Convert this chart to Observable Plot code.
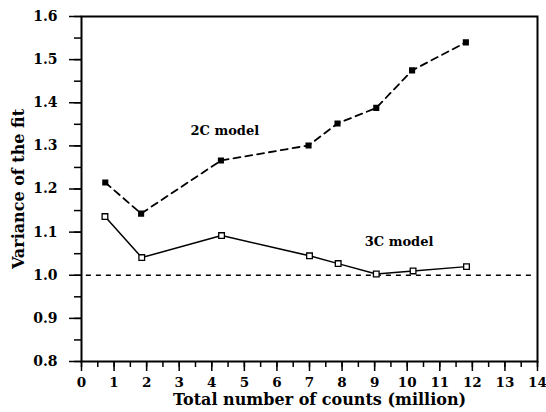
<!DOCTYPE html>
<html><head><meta charset="utf-8">
<script src="https://cdn.jsdelivr.net/npm/d3@7"></script>
<script src="https://cdn.jsdelivr.net/npm/@observablehq/plot@0.6"></script>
<style>
body{margin:0;background:#fff;}
svg{font-family:"DejaVu Serif",serif;}
</style></head>
<body><div id="chart"></div>
<script>
const counts2C = [0.73, 1.83, 4.28, 6.97, 7.86, 9.05, 10.15, 11.8];
const var2C = [1.215, 1.143, 1.266, 1.301, 1.352, 1.388, 1.475, 1.540];
const counts3C = [0.72, 1.85, 4.3, 7.0, 7.88, 9.05, 10.18, 11.82];
const var3C = [1.136, 1.041, 1.092, 1.045, 1.027, 1.003, 1.010, 1.020];
const xTicks = d3.range(0, 15, 1);
const yTicks = [0.8, 0.9, 1.0, 1.1, 1.2, 1.3, 1.4, 1.5, 1.6];
const labels = [{x: 4.4, y: 1.335, text: "2C model"}, {x: 9.75, y: 1.078, text: "3C model"}];

const d2 = counts2C.map((x, i) => ({x, y: var2C[i]}));
const d3c = counts3C.map((x, i) => ({x, y: var3C[i]}));
const blank = () => "";

const chart = Plot.plot({
  width: 546, height: 412,
  marginLeft: 81, marginRight: 9, marginTop: 16, marginBottom: 51,
  x: {domain: [0, 14]},
  y: {domain: [0.8, 1.6]},
  marks: [
    Plot.axisX({ticks: d3.range(0, 14.01, 0.5), tickSize: 6, tickFormat: blank, label: null, strokeWidth: 1.5}),
    Plot.axisX({ticks: xTicks, tickSize: 10, tickPadding: 6, tickFormat: d => d, label: null, fontSize: 13.5, fontWeight: "bold", strokeWidth: 1.5}),
    Plot.axisY({ticks: d3.range(0.8, 1.601, 0.05), tickSize: 7, tickFormat: blank, label: null, strokeWidth: 1.5}),
    Plot.axisY({ticks: yTicks, tickSize: 12, tickPadding: 12, tickFormat: d => d.toFixed(1), label: null, fontSize: 14, fontWeight: "bold", strokeWidth: 1.5}),
    Plot.frame({strokeWidth: 2}),
    Plot.ruleY([1.0], {x1: 0.15, x2: 13.85, strokeDasharray: "5,5", strokeWidth: 1.3}),
    Plot.line(d2, {x: "x", y: "y", strokeDasharray: "7,5", strokeWidth: 1.8}),
    Plot.dot(d2, {x: "x", y: "y", symbol: "square", r: 2.6, fill: "black", stroke: "black"}),
    Plot.line(d3c, {x: "x", y: "y", strokeWidth: 1.5}),
    Plot.dot(d3c, {x: "x", y: "y", symbol: "square", r: 3.2, fill: "white", stroke: "black", strokeWidth: 1.3}),
    Plot.text(labels, {x: "x", y: "y", text: "text", fontSize: 13, fontWeight: "bold"}),
    Plot.text(["Total number of counts (million)"], {frameAnchor: "bottom", dx: 10, dy: 43, text: d => d, fontSize: 16, fontWeight: "bold", letterSpacing: 1.5}),
    Plot.text(["Variance of the fit"], {frameAnchor: "left", textAnchor: "middle", dx: -63, rotate: -90, text: d => d, fontSize: 16, fontWeight: "bold", letterSpacing: 1.5})
  ]
});
document.getElementById("chart").append(chart);
</script></body></html>
